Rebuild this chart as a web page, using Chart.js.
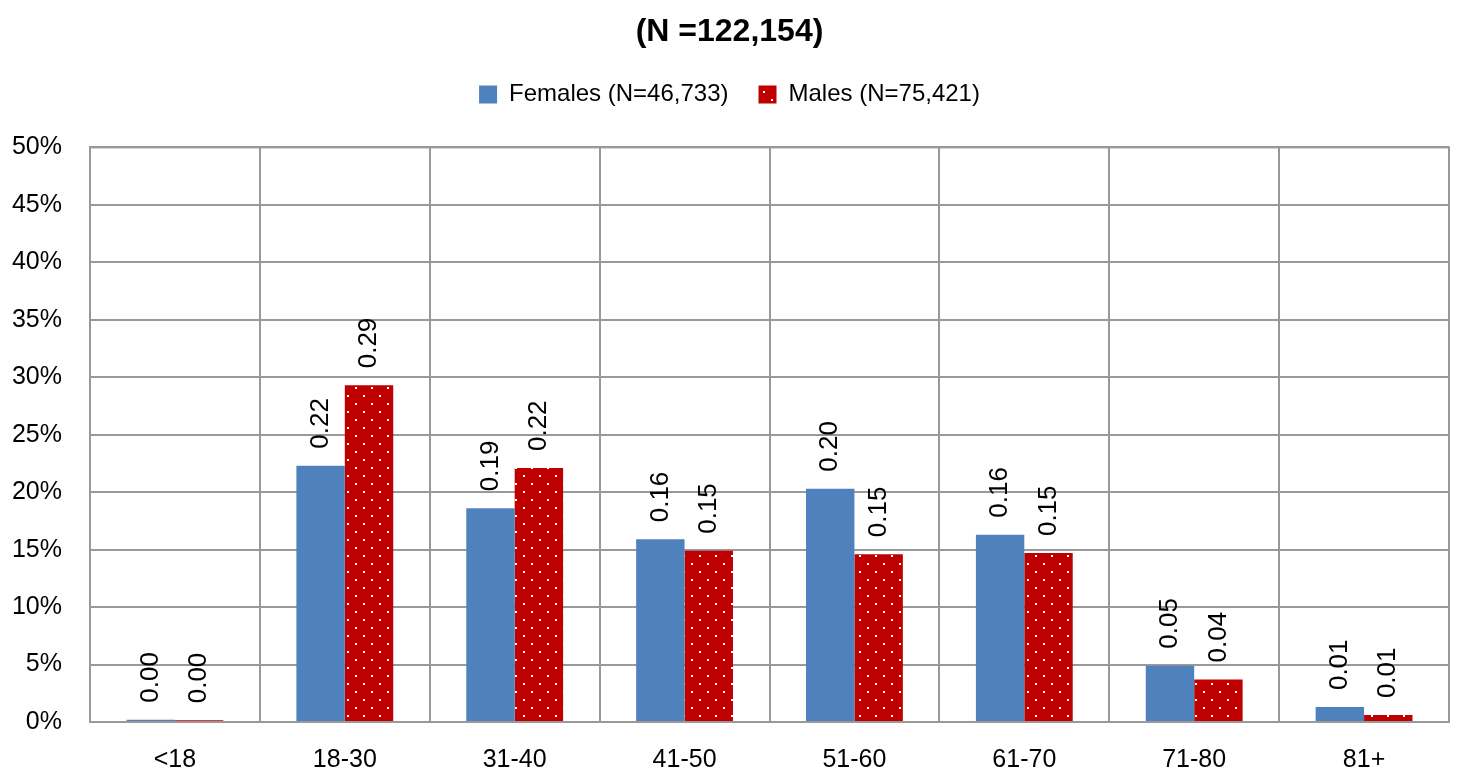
<!DOCTYPE html>
<html>
<head>
<meta charset="utf-8">
<script src="https://cdn.jsdelivr.net/npm/chart.js@4.4.1/dist/chart.umd.min.js"></script>
<style>
  html, body { margin: 0; padding: 0; background: #fff; }
  #wrap { width: 1459px; height: 776px; position: relative; }
</style>
</head>
<body>
<div id="wrap"><canvas id="ageChart"></canvas></div>
<script>
const ageGroups = ['<18', '18-30', '31-40', '41-50', '51-60', '61-70', '71-80', '81+'];
const females = [0.002, 0.223, 0.186, 0.159, 0.203, 0.163, 0.049, 0.013];
const males = [0.0015, 0.293, 0.221, 0.149, 0.146, 0.147, 0.037, 0.006];
const seriesNames = ['Females (N=46,733)', 'Males (N=75,421)'];
const titleText = '(N =122,154)';

const FONT = "'Liberation Sans', Arial, sans-serif";

// white dots on dark red, like the excel fill
function dotPattern() {
  const c = document.createElement('canvas');
  c.width = 16; c.height = 16;
  const g = c.getContext('2d');
  g.fillStyle = '#C00000';
  g.fillRect(0, 0, 16, 16);
  g.fillStyle = '#fff';
  g.fillRect(3, 3, 2, 2);
  g.fillRect(11, 11, 2, 2);
  return g.createPattern(c, 'repeat');
}

const valueLabels = {
  id: 'valueLabels',
  afterDatasetsDraw(chart) {
    const ctx = chart.ctx;
    ctx.save();
    ctx.fillStyle = '#000';
    ctx.font = '26px ' + FONT;
    ctx.textAlign = 'left';
    ctx.textBaseline = 'middle';
    chart.data.datasets.forEach((ds, i) => {
      chart.getDatasetMeta(i).data.forEach((bar, j) => {
        ctx.save();
        ctx.translate(bar.x, bar.y - 17);
        ctx.rotate(-Math.PI / 2);
        ctx.fillText(ds.data[j].toFixed(2), 0, 0);
        ctx.restore();
      });
    });
    ctx.restore();
  }
};

const plotBorder = {
  id: 'plotBorder',
  afterDraw(chart) {
    const a = chart.chartArea, ctx = chart.ctx;
    ctx.save();
    ctx.strokeStyle = '#999';
    ctx.lineWidth = 2;
    ctx.strokeRect(a.left, a.top, a.right - a.left, a.bottom - a.top);
    ctx.restore();
  }
};

// room between legend and plot
const legendGap = {
  id: 'legendGap',
  beforeInit(chart) {
    const fit = chart.legend.fit;
    chart.legend.fit = function () {
      fit.bind(chart.legend)();
      this.height += 31;
    };
  }
};

new Chart(document.getElementById('ageChart'), {
  type: 'bar',
  data: {
    labels: ageGroups,
    datasets: [
      { label: seriesNames[0], data: females, backgroundColor: '#4F81BD', borderWidth: 0 },
      { label: seriesNames[1], data: males, backgroundColor: dotPattern(), borderWidth: 0 }
    ]
  },
  options: {
    responsive: true,
    maintainAspectRatio: false,
    animation: false,
    layout: { padding: { left: 10, right: 10, top: 4, bottom: 0 } },
    datasets: { bar: { barPercentage: 1, categoryPercentage: 0.57 } },
    plugins: {
      title: {
        display: true,
        text: titleText,
        color: '#000',
        font: { family: FONT, size: 32, weight: 'bold' },
        padding: { top: 9, bottom: 1 }
      },
      legend: {
        display: true,
        labels: {
          color: '#000',
          font: { family: FONT, size: 24 },
          boxWidth: 18,
          boxHeight: 18,
          padding: 30
        }
      },
      tooltip: { enabled: false }
    },
    scales: {
      x: {
        grid: { color: '#999', lineWidth: 2, offset: true, drawTicks: false },
        border: { color: '#999', width: 2 },
        ticks: { color: '#000', font: { family: FONT, size: 25 }, padding: 23 },
        afterFit(scale) { scale.height = 54; }
      },
      y: {
        min: 0,
        max: 0.5,
        grid: { color: '#999', lineWidth: 2, drawTicks: false },
        border: { color: '#999', width: 2 },
        ticks: {
          stepSize: 0.05,
          color: '#000',
          font: { family: FONT, size: 25 },
          padding: 28,
          callback: v => Math.round(v * 100) + '%'
        },
        afterFit(scale) { scale.width = 80; }
      }
    }
  },
  plugins: [valueLabels, plotBorder, legendGap]
});
</script>
</body>
</html>
